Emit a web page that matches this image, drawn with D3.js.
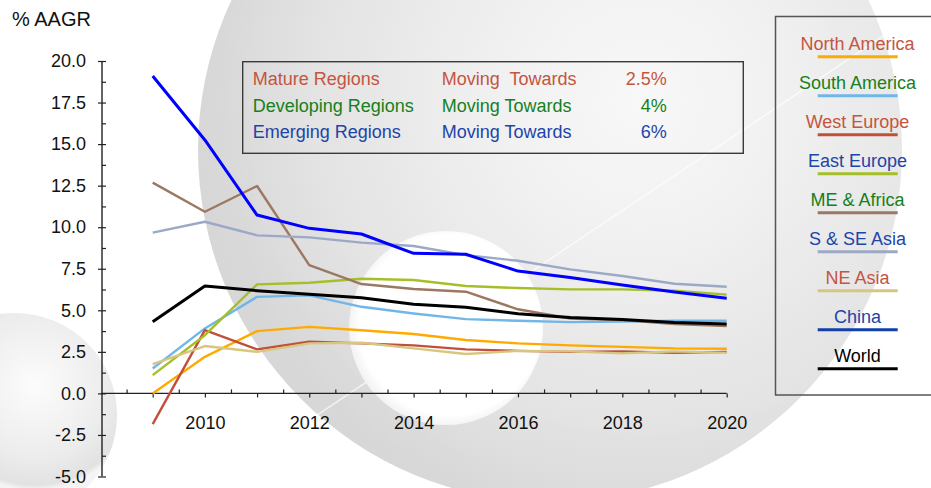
<!DOCTYPE html>
<html>
<head>
<meta charset="utf-8">
<script src="https://cdn.jsdelivr.net/npm/d3@7"></script>
<style>
  html, body { margin: 0; padding: 0; background: #fff; }
  svg { display: block; font-family: "Liberation Sans", Arial, sans-serif; }
  text { white-space: pre; }
</style>
</head>
<body>
<svg id="chart" width="931" height="488"></svg>
<script>
// ---------------- data ----------------
const years = [2009, 2010, 2011, 2012, 2013, 2014, 2015, 2016, 2017, 2018, 2019, 2020];
const seriesNames = ["North America", "South America", "West Europe", "East Europe", "ME & Africa",
                     "S & SE Asia", "NE Asia", "China", "World"];
const northAmerica = [0.0, 2.2, 3.75, 4.0, 3.8, 3.57, 3.21, 3.01, 2.89, 2.8, 2.71, 2.69];
const southAmerica = [1.5, 3.91, 5.81, 5.9, 5.21, 4.81, 4.47, 4.37, 4.29, 4.33, 4.37, 4.37];
const westEurope   = [-1.85, 3.81, 2.65, 3.11, 3.01, 2.89, 2.65, 2.56, 2.5, 2.53, 2.44, 2.5];
const eastEurope   = [1.1, 3.5, 6.56, 6.66, 6.9, 6.82, 6.46, 6.34, 6.26, 6.26, 6.18, 5.94];
const meAfrica     = [12.68, 10.93, 12.48, 7.72, 6.58, 6.28, 6.12, 5.06, 4.51, 4.41, 4.17, 4.05];
const sSeAsia      = [9.67, 10.33, 9.51, 9.39, 9.07, 8.87, 8.32, 7.98, 7.46, 7.06, 6.6, 6.42];
const neAsia       = [1.76, 2.85, 2.5, 3.01, 3.05, 2.71, 2.37, 2.56, 2.53, 2.41, 2.53, 2.44];
const china        = [19.1, 15.25, 10.73, 9.93, 9.59, 8.43, 8.37, 7.36, 6.98, 6.52, 6.1, 5.72];
const world        = [4.31, 6.46, 6.18, 5.96, 5.75, 5.37, 5.19, 4.79, 4.57, 4.45, 4.27, 4.17];
const seriesValues = [northAmerica, southAmerica, westEurope, eastEurope, meAfrica, sSeAsia, neAsia, china, world];

const yTicks = [-5, -2.5, 0, 2.5, 5, 7.5, 10, 12.5, 15, 17.5, 20];
const yMinorTicks = [-3.75, -1.25, 1.25, 3.75, 6.25, 8.75, 11.25, 13.75, 16.25, 18.75];
const xLabelYears = [2010, 2012, 2014, 2016, 2018, 2020];
const xMinorTicks = [2008.5, 2009.5, 2010.5, 2011.5, 2012.5, 2013.5, 2014.5, 2015.5, 2016.5, 2017.5, 2018.5, 2019.5];
const yTitle = "% AAGR";

const groupNames = ["Mature Regions", "Developing Regions", "Emerging Regions"];
const groupMoving = ["Moving  Towards", "Moving Towards", "Moving Towards"];
const groupTargets = ["2.5%", "4%", "6%"];

// ---------------- styles ----------------
const lineColors = ["#ffaa00", "#72b6e8", "#c0503c", "#a4bf28", "#9c7863", "#9ba9c6", "#d8c67f", "#0000ff", "#000000"];
const legendLineColors = ["#ffaa00", "#72b6e8", "#c0503c", "#a4bf28", "#9c7863", "#9ba9c6", "#d8c67f", "#1240a8", "#000000"];
const RED = "#c4553f", GREEN = "#16801c", BLUE = "#1c45a8";
const legendTextColors = [RED, GREEN, RED, BLUE, GREEN, BLUE, RED, BLUE, "#000000"];
const lineWidths = [2.4, 2.4, 2.4, 2.4, 2.4, 2.4, 2.4, 3, 3];
const groupColors = [RED, GREEN, BLUE];

const svg = d3.select("#chart");
const defs = svg.append("defs");

// ---------------- background decoration ----------------
const g1 = defs.append("radialGradient").attr("id", "bigGrad")
  .attr("gradientUnits", "userSpaceOnUse").attr("cx", 640).attr("cy", 100).attr("r", 440);
g1.append("stop").attr("offset", 0).attr("stop-color", "#f8f8f8");
g1.append("stop").attr("offset", 0.35).attr("stop-color", "#f0f0f0");
g1.append("stop").attr("offset", 0.75).attr("stop-color", "#e3e3e3");
g1.append("stop").attr("offset", 0.95).attr("stop-color", "#d9d9d9");
g1.append("stop").attr("offset", 1).attr("stop-color", "#d7d7d7");

const g2 = defs.append("radialGradient").attr("id", "ballGrad")
  .attr("gradientUnits", "userSpaceOnUse").attr("cx", 35).attr("cy", 385).attr("r", 105);
g2.append("stop").attr("offset", 0).attr("stop-color", "#fcfcfc");
g2.append("stop").attr("offset", 0.7).attr("stop-color", "#ececec");
g2.append("stop").attr("offset", 0.95).attr("stop-color", "#e2e2e2");
g2.append("stop").attr("offset", 1).attr("stop-color", "#f4f4f4");

const g3 = defs.append("radialGradient").attr("id", "holeGrad")
  .attr("gradientUnits", "userSpaceOnUse").attr("cx", 450).attr("cy", 325).attr("r", 100);
g3.append("stop").attr("offset", 0).attr("stop-color", "#ffffff");
g3.append("stop").attr("offset", 0.9).attr("stop-color", "#ffffff");
g3.append("stop").attr("offset", 1).attr("stop-color", "#f4f4f4");

defs.append("clipPath").attr("id", "bigClip")
  .append("circle").attr("cx", 550).attr("cy", 150).attr("r", 352);

const bg = svg.append("g");
bg.append("rect").attr("width", 931).attr("height", 488).attr("fill", "#ffffff");
bg.append("circle").attr("cx", 15).attr("cy", 415).attr("r", 102).attr("fill", "url(#ballGrad)");
bg.append("circle").attr("cx", 550).attr("cy", 150).attr("r", 352).attr("fill", "url(#bigGrad)");
bg.append("line").attr("x1", 250).attr("y1", 460).attr("x2", 931).attr("y2", 4)
  .attr("clip-path", "url(#bigClip)")
  .attr("stroke", "#ffffff").attr("stroke-width", 1.4).attr("opacity", 0.7);
bg.append("circle").attr("cx", 446).attr("cy", 328).attr("r", 97).attr("fill", "url(#holeGrad)");

// ---------------- scales ----------------
const axisX = 102;
const x = d3.scaleLinear().domain([2009, 2020]).range([152.7, 726.7]);
const y = d3.scaleLinear().domain([-5, 20]).range([476.5, 61]);

const fontSize = 18;

// y axis major
const yAxisG = svg.append("g").attr("transform", `translate(${axisX},0)`)
  .call(d3.axisLeft(y).tickValues(yTicks).tickSize(4).tickPadding(12)
    .tickFormat(d => d.toFixed(1)));
yAxisG.select(".domain").remove();
yAxisG.selectAll(".tick line").attr("x1", 4).attr("stroke", "#222").attr("stroke-width", 1.2);
yAxisG.selectAll(".tick text").attr("font-size", fontSize).attr("font-family", "Liberation Sans, Arial, sans-serif").attr("fill", "#111");
// y axis minor
const yMinorG = svg.append("g").attr("transform", `translate(${axisX},0)`)
  .call(d3.axisRight(y).tickValues(yMinorTicks).tickSize(4).tickFormat(""));
yMinorG.select(".domain").remove();
yMinorG.selectAll(".tick line").attr("stroke", "#222").attr("stroke-width", 1.2);
svg.append("line").attr("x1", axisX).attr("x2", axisX).attr("y1", y(20)).attr("y2", y(-5))
  .attr("stroke", "#222").attr("stroke-width", 1.4);

// x axis
const x0 = y(0);
const xAxisG = svg.append("g").attr("transform", `translate(0,${x0})`)
  .call(d3.axisBottom(x).tickValues(years).tickSize(4).tickPadding(19)
    .tickFormat(d => xLabelYears.includes(d) ? String(d) : ""));
xAxisG.select(".domain").remove();
xAxisG.selectAll(".tick line").attr("stroke", "#222").attr("stroke-width", 1.2);
xAxisG.selectAll(".tick text").attr("font-size", fontSize).attr("font-family", "Liberation Sans, Arial, sans-serif").attr("fill", "#111");
const xMinorG = svg.append("g").attr("transform", `translate(0,${x0})`)
  .call(d3.axisTop(x).tickValues(xMinorTicks).tickSize(4).tickFormat(""));
xMinorG.select(".domain").remove();
xMinorG.selectAll(".tick line").attr("stroke", "#222").attr("stroke-width", 1.2);
svg.append("line").attr("x1", axisX - 1).attr("x2", x(2020)).attr("y1", x0).attr("y2", x0)
  .attr("stroke", "#222").attr("stroke-width", 1.4);

// y title
svg.append("text").attr("x", 12).attr("y", 26).attr("font-size", 20).attr("fill", "#111").text(yTitle);

// ---------------- inset box ----------------
const inset = svg.append("g");
inset.append("rect").attr("x", 242.7).attr("y", 61.7).attr("width", 500.6).attr("height", 91.6)
  .attr("fill", "none").attr("stroke", "#3a3a3a").attr("stroke-width", 1.4);
groupNames.forEach((name, i) => {
  const by = 85 + i * 26.6;
  inset.append("text").attr("x", 252.7).attr("y", by).attr("font-size", fontSize).attr("fill", groupColors[i]).text(name);
  inset.append("text").attr("x", 441.7).attr("y", by).attr("font-size", fontSize).attr("fill", groupColors[i]).text(groupMoving[i]);
  inset.append("text").attr("x", 666.7).attr("y", by).attr("text-anchor", "end").attr("font-size", fontSize).attr("fill", groupColors[i]).text(groupTargets[i]);
});

// ---------------- lines ----------------
const lineGen = d3.line().x((d, i) => x(years[i])).y(d => y(d));
svg.append("g").selectAll("path").data(seriesValues).join("path")
  .attr("d", d => lineGen(d))
  .attr("fill", "none")
  .attr("stroke", (d, i) => lineColors[i])
  .attr("stroke-width", (d, i) => lineWidths[i])
  .attr("stroke-linejoin", "round");

// ---------------- legend ----------------
const legend = svg.append("g");
legend.append("rect").attr("x", 775.5).attr("y", 16.5).attr("width", 170).attr("height", 378.5)
  .attr("fill", "none").attr("stroke", "#555").attr("stroke-width", 1.5);
seriesNames.forEach((name, i) => {
  const by = 50 + i * 39;
  legend.append("text").attr("x", 857.5).attr("y", by).attr("text-anchor", "middle")
    .attr("font-size", fontSize).attr("fill", legendTextColors[i]).text(name);
  legend.append("line").attr("x1", 817.7).attr("x2", 897.7).attr("y1", by + 6.7).attr("y2", by + 6.7)
    .attr("stroke", legendLineColors[i]).attr("stroke-width", 3);
});
</script>
</body>
</html>
